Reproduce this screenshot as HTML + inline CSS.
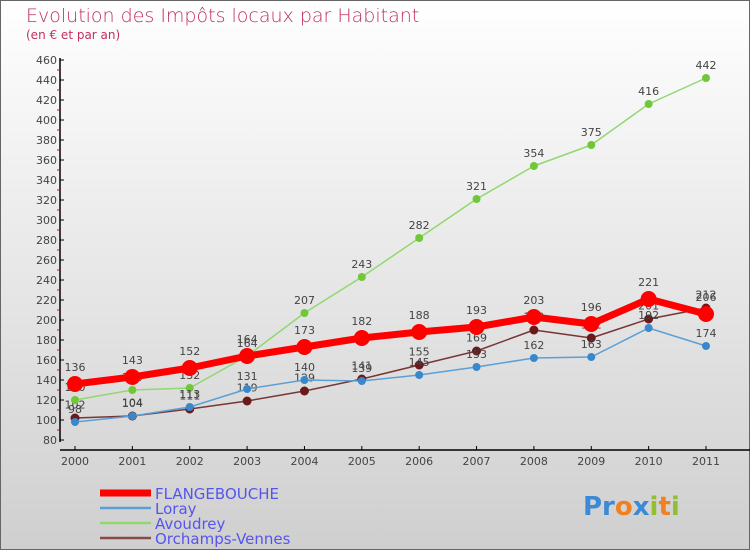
<!DOCTYPE html>
<html><head><meta charset="utf-8"><style>
body{margin:0;width:750px;height:550px;overflow:hidden;font-family:"DejaVu Sans","Liberation Sans",sans-serif;}
</style></head><body>
<svg width="750" height="550" xmlns="http://www.w3.org/2000/svg">
<defs><linearGradient id="bg" x1="0" y1="0" x2="0" y2="1"><stop offset="0" stop-color="#ffffff"/><stop offset="1" stop-color="#cfcfcf"/></linearGradient></defs>
<rect x="0.5" y="0.5" width="749" height="549" fill="url(#bg)" stroke="#666"/>
<text x="26" y="22" font-size="19" fill="#c0305e" font-weight="200">Evolution des Impôts locaux par Habitant</text>
<text x="26" y="39" font-size="12" fill="#c0305e">(en € et par an)</text>
<g id="axes"></g>
<g id="series"></g>
<g id="legend"></g>
<text x="583" y="515" font-size="26" font-weight="bold" fill="#f0a020"><tspan fill="#3a8ad8">Pr</tspan><tspan fill="#f08020">o</tspan><tspan fill="#3a8ad8">x</tspan><tspan fill="#90c030">i</tspan><tspan fill="#f08020">t</tspan><tspan fill="#90c030">i</tspan></text>
</svg>
<script>
const years=[2000,2001,2002,2003,2004,2005,2006,2007,2008,2009,2010,2011];
const flangebouche=[136,143,152,164,173,182,188,193,203,196,221,206];
const loray=[98,104,113,131,140,139,145,153,162,163,192,174];
const avoudrey=[120,130,132,164,207,243,282,321,354,375,416,442];
const orchamps=[102,104,111,119,129,141,155,169,190,182,201,212];
const yTicks=[80,100,120,140,160,180,200,220,240,260,280,300,320,340,360,380,400,420,440,460];
const NS="http://www.w3.org/2000/svg";
const xs=i=>75+i*(706-75)/11;
const ys=v=>440-(v-80)*380/380;
function mk(t,a,p){const e=document.createElementNS(NS,t);for(const k in a)e.setAttribute(k,a[k]);p.appendChild(e);return e;}
const ax=document.getElementById('axes');
let l=mk('line',{x1:60,y1:58,x2:60,y2:442,stroke:'#000','stroke-width':1.5},ax);


yTicks.forEach(v=>{
 const y=ys(v);
 mk('line',{x1:60,y1:y,x2:64,y2:y,stroke:'#000'},ax);
 if(v<460) mk('line',{x1:57,y1:y-10,x2:60,y2:y-10,stroke:'#e00'},ax);
 const t=mk('text',{x:57,y:y+4,'font-size':11,'text-anchor':'end',fill:'#444'},ax);t.textContent=v;
 
 
});
l=mk('line',{x1:60,y1:450,x2:750,y2:450,stroke:'#000','stroke-width':1.5},ax);


years.forEach((yr,i)=>{
 const x=xs(i);
 mk('line',{x1:x,y1:446,x2:x,y2:450,stroke:'#000'},ax);
 const t=mk('text',{x:x,y:465,'font-size':11,'text-anchor':'middle',fill:'#444'},ax);t.textContent=yr;
 
 
});
const sg=document.getElementById('series');
const series=[
 {name:'orchamps-vennes',d:orchamps,c:'#7a3535',w:1.5,r:4.5,f:'#6a1a1a'},
 {name:'avoudrey',d:avoudrey,c:'#90d870',w:1.5,r:4,f:'#70c838'},
 {name:'loray',d:loray,c:'#5aa0d8',w:1.5,r:4,f:'#3a88cc'},
 {name:'flangebouche',d:flangebouche,c:'#ff0000',w:7,r:8,f:'#ff0000'}];
series.forEach(s=>{
 const g=mk('g',{},sg);
 
 
 const p=mk('polyline',{points:s.d.map((v,i)=>xs(i)+','+ys(v)).join(' '),fill:'none',stroke:s.c,'stroke-width':s.w,'stroke-linejoin':'round'},g);
 
 
 s.d.forEach((v,i)=>{
  const c=mk('circle',{cx:xs(i),cy:ys(v),r:s.r,fill:s.f},g);
  
  
  const t=mk('text',{x:xs(i),y:ys(v)-s.r-5,'font-size':11,'text-anchor':'middle',fill:'#444'},g);t.textContent=v;
  
  
 });
});
const lg=document.getElementById('legend');
const leg=[['FLANGEBOUCHE','#ff0000',7],['Loray','#5aa0d8',2.5],['Avoudrey','#90d870',2.5],['Orchamps-Vennes','#8a4a4a',2.5]];
leg.forEach((e,i)=>{
 const y=493+i*15;
 const g=mk('g',{},lg);
 
 
 mk('line',{x1:100,y1:y,x2:151,y2:y,stroke:e[1],'stroke-width':e[2]},g);
 const t=mk('text',{x:155,y:y+6,'font-size':15,fill:'#5555ee'},g);t.textContent=e[0];
});
</script>
</body></html>
